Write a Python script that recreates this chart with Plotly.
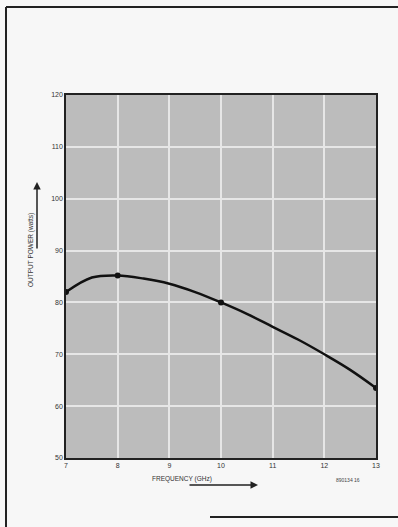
import plotly.graph_objects as go

# curve
freq_ghz = [7, 7.5, 8, 8.5, 9, 9.5, 10, 10.5, 11, 11.5, 12, 12.5, 13]
power_w = [82, 84.8, 85.2, 84.6, 83.6, 82.0, 80.0, 77.8, 75.3, 72.8, 70.0, 67.0, 63.5]

# measured points marked on the curve
mark_freq = [7, 8, 10, 13]
mark_power = [82, 85.2, 80.0, 63.5]

x_ticks = [7, 8, 9, 10, 11, 12, 13]
y_ticks = [50, 60, 70, 80, 90, 100, 110, 120]

W, H = 398, 527
L, R, T, B = 66, 22, 95, 69
pw, ph = W - L - R, H - T - B


def px(x):
    return (x - L) / pw


def py(y):
    return (H - B - y) / ph


fig = go.Figure()
fig.add_trace(
    go.Scatter(
        x=freq_ghz,
        y=power_w,
        mode="lines",
        line=dict(color="#111111", width=2.5, shape="spline"),
        showlegend=False,
    )
)
fig.add_trace(
    go.Scatter(
        x=mark_freq,
        y=mark_power,
        mode="markers",
        marker=dict(color="#111111", size=6),
        showlegend=False,
    )
)

tick_font = dict(family="Liberation Sans, Arial", size=7, color="#333333")
fig.update_xaxes(
    range=[7, 13],
    tickvals=x_ticks,
    showgrid=True,
    gridcolor="#e6e6e6",
    gridwidth=2,
    zeroline=False,
    showline=True,
    linecolor="#222222",
    linewidth=1.5,
    mirror=True,
    tickfont=tick_font,
    ticks="",
)
fig.update_yaxes(
    range=[50, 120],
    tickvals=y_ticks,
    showgrid=True,
    gridcolor="#e6e6e6",
    gridwidth=2,
    zeroline=False,
    showline=True,
    linecolor="#222222",
    linewidth=1.5,
    mirror=True,
    tickfont=tick_font,
    ticks="",
)

label_font = dict(family="Liberation Sans, Arial", size=6.5, color="#333333")
annotations = [
    dict(x=px(25), y=py(211), text="OUTPUT POWER (watts)", textangle=-90,
         showarrow=False, font=label_font),
    dict(x=px(37), y=py(182), ax=0, ay=68, text="", showarrow=True,
         arrowhead=2, arrowsize=1, arrowwidth=1.5, arrowcolor="#222222"),
    dict(x=px(150), y=py(485), text="FREQUENCY (GHz)", showarrow=False,
         font=label_font),
    dict(x=px(258), y=py(485), ax=-70, ay=0, text="", showarrow=True,
         arrowhead=2, arrowsize=1, arrowwidth=1.5, arrowcolor="#222222"),
    dict(x=px(362), y=py(485), text="890134 16", showarrow=False,
         font=dict(family="Liberation Sans, Arial", size=5, color="#444444")),
]
for a in annotations:
    a.update(xref="paper", yref="paper")

# frame of the scanned page
shapes = [
    dict(type="line", x0=px(6), x1=px(6), y0=py(7), y1=py(527)),
    dict(type="line", x0=px(6), x1=px(398), y0=py(7), y1=py(7)),
    dict(type="line", x0=px(210), x1=px(398), y0=py(517), y1=py(517)),
]
for s in shapes:
    s.update(xref="paper", yref="paper", line=dict(color="#222222", width=2))

fig.update_layout(
    width=W,
    height=H,
    margin=dict(l=L, r=R, t=T, b=B),
    paper_bgcolor="#f7f7f7",
    plot_bgcolor="#bcbcbc",
    annotations=annotations,
    shapes=shapes,
    showlegend=False,
)

fig.write_html(
    "out.html",
    config={"displayModeBar": False},
    post_script="document.body.style.margin='0';",
)
